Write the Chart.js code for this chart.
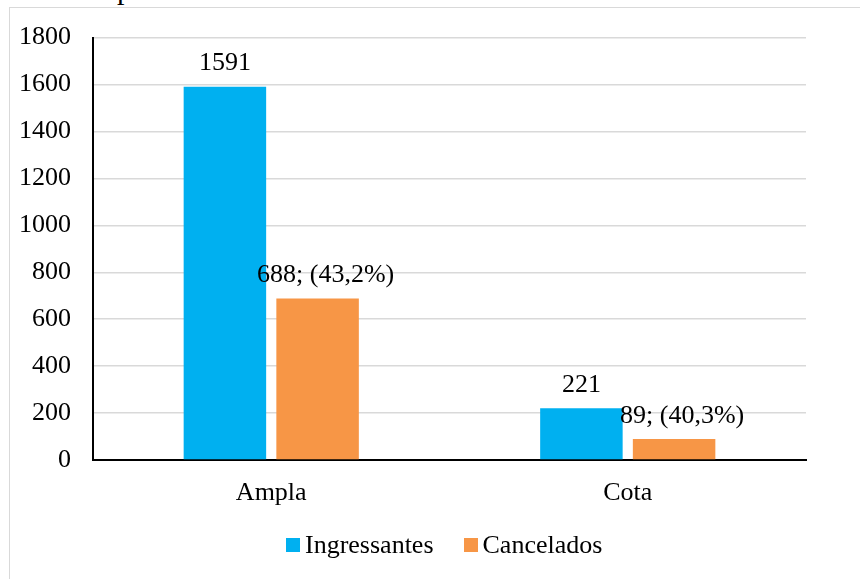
<!DOCTYPE html>
<html>
<head>
<meta charset="utf-8">
<script src="https://cdn.jsdelivr.net/npm/chart.js@4.4.0/dist/chart.umd.min.js"></script>
<style>
  html, body { margin: 0; padding: 0; width: 860px; height: 579px; overflow: hidden; background: #fff; }
  #frame { position: absolute; left: 9px; top: 7px; width: 900px; height: 700px; border-left: 1.5px solid #d9d9d9; border-top: 1.5px solid #d9d9d9; }
  #cut { position: absolute; left: 117px; top: -26px; font-family: "Liberation Serif", serif; font-size: 30px; line-height: 30px; color: #000; }
  #wrap { position: absolute; left: 0; top: 0; width: 860px; height: 579px; }
  #legenda { position: absolute; left: 286px; top: 530px; height: 30px; display: flex; align-items: center;
             font-family: "Liberation Serif", serif; font-size: 26px; color: #000; white-space: nowrap; }
  #legenda .cx { display: inline-block; width: 14px; height: 14px; margin-right: 5px; }
  #legenda .it { display: flex; align-items: center; margin-right: 30px; }
</style>
</head>
<body>
<div id="frame"></div>
<div id="cut">p</div>
<div id="wrap"><canvas id="grafico" width="860" height="579"></canvas></div>
<div id="legenda"></div>
<script>
// dados
const categorias = ['Ampla', 'Cota'];
const ingressantes = [1591, 221];
const cancelados = [688, 89];
const rotulosCancelados = ['688; (43,2%)', '89; (40,3%)'];
const ticksY = [0, 200, 400, 600, 800, 1000, 1200, 1400, 1600, 1800];

const fonte = 'Liberation Serif';

// rótulos acima das barras
const rotulos = {
  id: 'rotulos',
  afterDatasetsDraw(chart) {
    const ctx = chart.ctx;
    ctx.save();
    ctx.font = '26px "' + fonte + '"';
    ctx.fillStyle = '#000';
    ctx.textAlign = 'center';
    ctx.textBaseline = 'bottom';
    chart.data.datasets.forEach((ds, i) => {
      chart.getDatasetMeta(i).data.forEach((bar, j) => {
        const txt = i === 0 ? String(ds.data[j]) : rotulosCancelados[j];
        const dx = i === 0 ? 0 : 8;
        ctx.fillText(txt, bar.x + dx, bar.y - 10);
      });
    });
    ctx.restore();
  }
};

const chart = new Chart(document.getElementById('grafico'), {
  type: 'bar',
  data: {
    labels: categorias,
    datasets: [
      { label: 'Ingressantes', data: ingressantes, backgroundColor: '#00b0f0' },
      { label: 'Cancelados', data: cancelados, backgroundColor: '#f79646' }
    ]
  },
  plugins: [rotulos],
  options: {
    responsive: false,
    animation: false,
    devicePixelRatio: 1,
    categoryPercentage: 0.52,
    barPercentage: 0.89,
    layout: { padding: { left: 0, right: 54, top: 37, bottom: 59 } },
    plugins: {
      legend: { display: false },
      tooltip: { enabled: false }
    },
    scales: {
      x: {
        grid: { display: false, drawTicks: false },
        border: { color: '#000', width: 2 },
        ticks: { font: { family: fonte, size: 26 }, color: '#000', padding: 18 },
        afterFit(s) { s.height = 60; }
      },
      y: {
        min: 0,
        max: 1800,
        afterBuildTicks(s) { s.ticks = ticksY.map(v => ({ value: v })); },
        grid: { color: '#d9d9d9', lineWidth: 1.5, drawTicks: false },
        border: { color: '#000', width: 2 },
        ticks: { font: { family: fonte, size: 26 }, color: '#000', padding: 22, callback: v => String(v) },
        afterFit(s) { s.width = 93; }
      }
    }
  }
});

// legenda em HTML com as cores dos datasets
const leg = document.getElementById('legenda');
chart.data.datasets.forEach(ds => {
  const it = document.createElement('span');
  it.className = 'it';
  const cx = document.createElement('span');
  cx.className = 'cx';
  cx.style.background = ds.backgroundColor;
  it.appendChild(cx);
  it.appendChild(document.createTextNode(ds.label));
  leg.appendChild(it);
});
</script>
</body>
</html>
